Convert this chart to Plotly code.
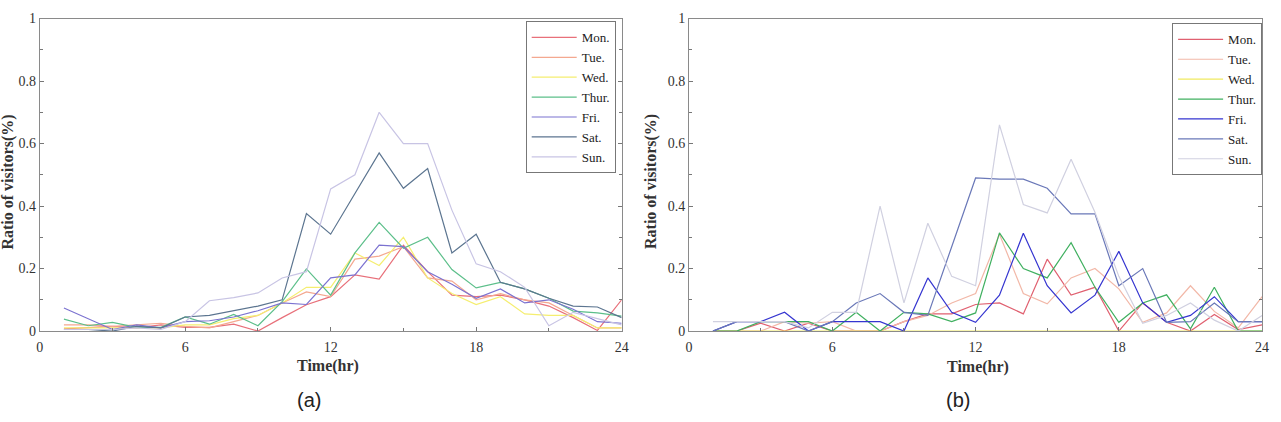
import plotly.graph_objects as go

hours = list(range(1, 25))
days = ["Mon.", "Tue.", "Wed.", "Thur.", "Fri.", "Sat.", "Sun."]

# (a)
mon_a = [0.007, 0.01, 0.015, 0.01, 0.02, 0.012, 0.012, 0.022, 0.0, 0.043, 0.084, 0.11, 0.18, 0.166, 0.275, 0.19, 0.115, 0.11, 0.115, 0.1, 0.08, 0.043, 0.002, 0.1]
tue_a = [0.02, 0.02, 0.015, 0.02, 0.025, 0.015, 0.01, 0.03, 0.05, 0.09, 0.125, 0.11, 0.23, 0.24, 0.27, 0.17, 0.16, 0.1, 0.12, 0.1, 0.09, 0.05, 0.01, 0.01]
wed_a = [0.01, 0.01, 0.01, 0.01, 0.01, 0.02, 0.02, 0.04, 0.05, 0.09, 0.14, 0.14, 0.25, 0.21, 0.30, 0.17, 0.12, 0.085, 0.11, 0.055, 0.05, 0.05, 0.01, 0.01]
thu_a = [0.038, 0.017, 0.028, 0.012, 0.012, 0.045, 0.022, 0.053, 0.017, 0.094, 0.199, 0.115, 0.25, 0.348, 0.265, 0.30, 0.197, 0.138, 0.156, 0.135, 0.105, 0.064, 0.058, 0.048]
fri_a = [0.074, 0.04, 0.005, 0.02, 0.01, 0.03, 0.033, 0.045, 0.065, 0.09, 0.085, 0.17, 0.18, 0.275, 0.27, 0.19, 0.15, 0.105, 0.135, 0.09, 0.1, 0.07, 0.03, 0.025]
sat_a = [0.005, 0.005, 0.0, 0.015, 0.01, 0.045, 0.05, 0.065, 0.08, 0.1, 0.376, 0.31, 0.44, 0.57, 0.457, 0.52, 0.25, 0.31, 0.156, 0.135, 0.105, 0.08, 0.077, 0.043]
sun_a = [0.005, 0.005, 0.005, 0.01, 0.005, 0.03, 0.097, 0.107, 0.122, 0.17, 0.19, 0.455, 0.50, 0.70, 0.60, 0.60, 0.387, 0.215, 0.19, 0.14, 0.017, 0.06, 0.04, 0.02]

# (b)
mon_b = [0, 0, 0.025, 0, 0.025, 0, 0, 0, 0.03, 0.055, 0.055, 0.085, 0.09, 0.055, 0.23, 0.115, 0.14, 0.0, 0.09, 0.028, 0.0, 0.053, 0.005, 0.02]
tue_b = [0, 0, 0, 0.03, 0.025, 0.03, 0, 0, 0.03, 0.05, 0.09, 0.12, 0.31, 0.12, 0.087, 0.17, 0.2, 0.135, 0.028, 0.058, 0.145, 0.063, 0.01, 0.11]
wed_b = [0, 0, 0, 0, 0, 0, 0, 0, 0, 0, 0, 0, 0, 0, 0, 0, 0, 0, 0, 0, 0, 0, 0, 0]
thu_b = [0, 0, 0.03, 0.03, 0.03, 0, 0.06, 0, 0.06, 0.055, 0.03, 0.058, 0.314, 0.2, 0.17, 0.283, 0.14, 0.028, 0.09, 0.116, 0.007, 0.14, 0, 0]
fri_b = [0, 0.03, 0.03, 0.06, 0, 0.03, 0.03, 0.03, 0, 0.17, 0.06, 0.028, 0.115, 0.313, 0.145, 0.058, 0.115, 0.255, 0.09, 0.028, 0.05, 0.11, 0.03, 0.03]
sat_b = [0, 0.03, 0.03, 0.03, 0, 0.03, 0.09, 0.12, 0.06, 0.05, 0.27, 0.49, 0.486, 0.486, 0.457, 0.375, 0.375, 0.145, 0.2, 0.028, 0.03, 0.09, 0.03, 0.03]
sun_b = [0.03, 0.03, 0.03, 0.03, 0.01, 0.06, 0.06, 0.40, 0.09, 0.345, 0.175, 0.145, 0.66, 0.405, 0.378, 0.55, 0.38, 0.175, 0.025, 0.05, 0.09, 0.035, 0.0, 0.05]

series_a = [mon_a, tue_a, wed_a, thu_a, fri_a, sat_a, sun_a]
series_b = [mon_b, tue_b, wed_b, thu_b, fri_b, sat_b, sun_b]
colors_a = ["#e8707a", "#f4a890", "#f5ee70", "#5cbf8a", "#7b72d0", "#5c7590", "#c8c4e4"]
colors_b = ["#e06070", "#f2b8a8", "#f0ea60", "#40b060", "#3535d0", "#6a78b8", "#d0d0e0"]

W, H = 1281, 422
fig = go.Figure()
for name, ys, c in zip(days, series_a, colors_a):
    fig.add_trace(go.Scatter(x=hours, y=ys, mode="lines", name=name,
                             line=dict(color=c, width=1.2), xaxis="x", yaxis="y", legend="legend"))
for name, ys, c in zip(days, series_b, colors_b):
    fig.add_trace(go.Scatter(x=hours, y=ys, mode="lines", name=name,
                             line=dict(color=c, width=1.2), xaxis="x2", yaxis="y2", legend="legend2"))

serif = "Liberation Serif"
tickfont = dict(family=serif, size=14, color="#333")

def xax(domain, anchor):
    return dict(domain=domain, anchor=anchor, range=[0, 24], tickvals=[0, 6, 12, 18, 24],
                ticks="inside", ticklen=4, tickcolor="#777", showline=True, mirror=True,
                linecolor="#8a8a8a", linewidth=1, showgrid=False, zeroline=False, tickfont=tickfont,
                ticklabelstandoff=3,
                minor=dict(ticks="inside", dtick=3, ticklen=3, tickcolor="#777"))

def yax(domain, anchor):
    return dict(domain=domain, anchor=anchor, range=[0, 1], dtick=0.2, tickformat="~g",
                ticks="inside", ticklen=4, tickcolor="#777", showline=True, mirror="ticks",
                linecolor="#8a8a8a", linewidth=1, showgrid=False, zeroline=False, tickfont=tickfont,
                minor=dict(ticks="inside", dtick=0.1, ticklen=3, tickcolor="#777"))

ydom = [1 - 336 / H, 1 - 12 / H]
legfont = dict(family=serif, size=13, color="#222")
fig.update_layout(
    width=W, height=H, margin=dict(l=0, r=0, t=0, b=0),
    paper_bgcolor="white", plot_bgcolor="white",
    xaxis=xax([36 / W, 623 / W], "y"),
    yaxis=yax(ydom, "x"),
    xaxis2=xax([691 / W, 1269 / W], "y2"),
    yaxis2=yax(ydom, "x2"),
    legend=dict(x=617 / W, y=1 - 15 / H, xanchor="right", yanchor="top", bgcolor="white",
                bordercolor="#777", borderwidth=1, font=legfont, tracegroupgap=0, itemwidth=45),
    legend2=dict(x=1269 / W, y=1 - 17 / H, xanchor="right", yanchor="top", bgcolor="white",
                 bordercolor="#777", borderwidth=1, font=legfont, tracegroupgap=0, itemwidth=45),
    showlegend=True,
)

ann = []
bold = dict(family=serif, size=16, color="#333")
for cx, cy in [(327, 372), (982, 373)]:
    ann.append(dict(text="<b>Time(hr)</b>", x=cx / W, y=1 - cy / H, xref="paper", yref="paper",
                    showarrow=False, font=bold, xanchor="center", yanchor="middle"))
for cx in [4, 652]:
    ann.append(dict(text="<b>Ratio of visitors(%)</b>", x=cx / W, y=1 - 181 / H, xref="paper", yref="paper",
                    showarrow=False, font=bold, textangle=-90, xanchor="center", yanchor="middle"))
cap = dict(family="Liberation Sans", size=20, color="#222")
for txt, cx in [("(a)", 308), ("(b)", 962)]:
    ann.append(dict(text=txt, x=cx / W, y=1 - 407 / H, xref="paper", yref="paper",
                    showarrow=False, font=cap, xanchor="center", yanchor="middle"))
fig.update_layout(annotations=ann)

fig.write_html("out.html")
